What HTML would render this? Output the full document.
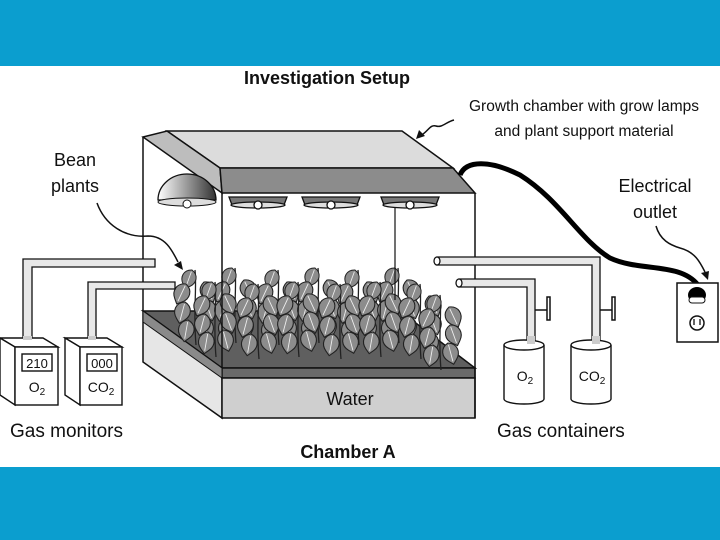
<!DOCTYPE html>
<html><head><meta charset="utf-8"><style>
html,body{margin:0;padding:0;width:720px;height:540px;overflow:hidden;background:#fff}
svg{display:block}
text{font-family:"Liberation Sans",sans-serif;fill:#111}
</style></head><body>
<svg width="720" height="540" viewBox="0 0 720 540">
<defs>
<linearGradient id="lg" x1="0" x2="1"><stop offset="0" stop-color="#fff"/><stop offset="0.5" stop-color="#999"/><stop offset="1" stop-color="#333"/></linearGradient>
<g id="leaf"><path d="M0,0 C-9,3 -10,12 -4,18 L0,22 L4,18 C10,12 9,3 0,0 Z" fill="#8c8c8c" stroke="#222" stroke-width="1.1"/><path d="M0,2 L0,19" stroke="#eee" stroke-width="0.9"/></g>
<g id="plant">
<path d="M0,0 C2,20 -2,40 1,75" stroke="#222" stroke-width="1.3" fill="none"/>
<use href="#leaf" transform="translate(-3,0) rotate(20) scale(0.9)"/>
<use href="#leaf" transform="translate(-9,14) rotate(25)"/>
<use href="#leaf" transform="translate(9,12) rotate(-25)"/>
<use href="#leaf" transform="translate(-10,32) rotate(15)"/>
<use href="#leaf" transform="translate(10,30) rotate(-20)"/>
<use href="#leaf" transform="translate(-7,50) rotate(10)"/>
<use href="#leaf" transform="translate(8,48) rotate(-15)"/>
</g>
</defs>
<rect x="0" y="0" width="720" height="66" fill="#0b9ecf"/>
<rect x="0" y="467" width="720" height="73" fill="#0b9ecf"/>

<text x="327" y="84" font-size="18" font-weight="bold" text-anchor="middle">Investigation Setup</text>
<text x="584" y="111" font-size="15.5" text-anchor="middle">Growth chamber with grow lamps</text>
<text x="584" y="136" font-size="15.5" text-anchor="middle">and plant support material</text>
<path d="M454,120 C446,122 442,128 436,126 C430,124 428,132 420,136" stroke="#111" stroke-width="1.5" fill="none"/>
<path d="M416,139 l3,-9 l6,6 z" fill="#111"/>
<text x="75" y="166" font-size="18" text-anchor="middle">Bean</text>
<text x="75" y="192" font-size="18" text-anchor="middle">plants</text>
<path d="M97,203 C105,225 125,238 148,236 C165,236 172,250 178,262" stroke="#111" stroke-width="1.5" fill="none"/>
<path d="M183,270 l-9,-5 l7,-4 z" fill="#111"/>
<text x="655" y="192" font-size="18" text-anchor="middle">Electrical</text>
<text x="655" y="218" font-size="18" text-anchor="middle">outlet</text>
<path d="M656,226 C660,240 670,245 680,248 C695,252 700,262 705,272" stroke="#111" stroke-width="1.5" fill="none"/>
<path d="M708,280 l-7,-7 l8,-2 z" fill="#111"/>

<!-- tray -->
<polygon points="143,311 400,311 475,368 222,368" fill="#5f5f5f" stroke="#111" stroke-width="1.5"/>
<polygon points="143,311 222,368 222,418 143,362" fill="#e6e6e6" stroke="#111" stroke-width="1.5"/>
<rect x="222" y="368" width="253" height="10" fill="#6a6a6a" stroke="#111" stroke-width="1.5"/>
<rect x="222" y="378" width="253" height="40" fill="#cfcfcf" stroke="#111" stroke-width="1.5"/>
<polygon points="143,311 222,368 222,378 143,322" fill="#8a8a8a" stroke="#111" stroke-width="1"/>
<text x="350" y="405" font-size="18" text-anchor="middle">Water</text>

<!-- plants -->
<use href="#plant" transform="translate(195,270)"/>
<use href="#plant" transform="translate(235,268)"/>
<use href="#plant" transform="translate(278,270)"/>
<use href="#plant" transform="translate(318,268)"/>
<use href="#plant" transform="translate(358,270)"/>
<use href="#plant" transform="translate(398,268)"/>
<use href="#plant" transform="translate(215,282)"/>
<use href="#plant" transform="translate(258,284)"/>
<use href="#plant" transform="translate(298,282)"/>
<use href="#plant" transform="translate(340,284)"/>
<use href="#plant" transform="translate(380,282)"/>
<use href="#plant" transform="translate(420,284)"/>
<use href="#plant" transform="translate(440,295)"/>

<!-- frame lines -->
<line x1="143" y1="137" x2="143" y2="311" stroke="#111" stroke-width="1.5"/>
<line x1="222" y1="193" x2="222" y2="368" stroke="#111" stroke-width="1.5"/>
<line x1="475" y1="193" x2="475" y2="418" stroke="#111" stroke-width="1.5"/>
<line x1="395" y1="206" x2="395" y2="300" stroke="#111" stroke-width="1.2"/>

<!-- roof -->
<polygon points="167,131 402,131 453,168 220,168" fill="#dcdcdc" stroke="#111" stroke-width="1.5"/>
<polygon points="143,137 167,131 220,168 222,193" fill="#bdbdbd" stroke="#111" stroke-width="1.5"/>
<polygon points="220,168 453,168 475,193 222,193" fill="#8c8c8c" stroke="#111" stroke-width="1.5"/>

<!-- lamps -->
<path d="M158,200 A29,26 0 0 1 216,200 Z" fill="url(#lg)" stroke="#111" stroke-width="1.3"/>
<ellipse cx="187" cy="202" rx="29" ry="4" fill="#ddd" stroke="#111"/>
<circle cx="187" cy="204" r="4" fill="#fff" stroke="#111"/>
<g stroke="#111" stroke-width="1.3">
<path d="M229,197 h58 l-3,8 h-52 z" fill="#777"/><ellipse cx="258" cy="205" rx="27" ry="3" fill="#ddd"/><circle cx="258" cy="205" r="4" fill="#fff"/>
<path d="M302,197 h58 l-3,8 h-52 z" fill="#777"/><ellipse cx="331" cy="205" rx="27" ry="3" fill="#ddd"/><circle cx="331" cy="205" r="4" fill="#fff"/>
<path d="M381,197 h58 l-3,8 h-52 z" fill="#777"/><ellipse cx="410" cy="205" rx="27" ry="3" fill="#ddd"/><circle cx="410" cy="205" r="4" fill="#fff"/>
</g>

<!-- cord -->
<path d="M460,175 C466,160 490,160 520,175 C560,200 580,240 610,258 C640,272 680,262 698,285" stroke="#000" stroke-width="5" fill="none"/>
<!-- outlet -->
<rect x="677" y="283" width="41" height="59" fill="#fff" stroke="#111" stroke-width="1.5"/>
<ellipse cx="697" cy="295" rx="9" ry="8" fill="#000"/>
<rect x="689" y="297" width="16" height="6" rx="3" fill="#fff" stroke="#111"/>
<circle cx="697" cy="323" r="7" fill="#fff" stroke="#111" stroke-width="1.5"/>
<line x1="694" y1="319" x2="694" y2="325" stroke="#111" stroke-width="1.3"/><line x1="700" y1="319" x2="700" y2="325" stroke="#111" stroke-width="1.3"/>

<!-- left tubes -->
<g fill="#e8e8e8" stroke="#111" stroke-width="1.3">
<path d="M23,338 V259 H155 V267 H32 V338 Z"/>
<path d="M88,338 V282 H175 V289 H96 V338 Z"/>
</g>
<!-- monitors -->
<g stroke="#111" stroke-width="1.4" fill="#fff">
<polygon points="0,338 43,338 58,347 15,347"/>
<polygon points="0,338 15,347 15,405 0,395"/>
<rect x="15" y="347" width="43" height="58"/>
<rect x="22" y="354" width="30" height="17"/>
<polygon points="65,338 107,338 122,347 80,347"/>
<polygon points="65,338 80,347 80,405 65,395"/>
<rect x="80" y="347" width="42" height="58"/>
<rect x="87" y="354" width="30" height="17"/>
</g>
<rect x="23" y="336" width="9" height="4" fill="#ccc"/><rect x="88" y="336" width="8" height="4" fill="#ccc"/>
<text x="37" y="368" font-size="13" text-anchor="middle">210</text>
<text x="102" y="368" font-size="13" text-anchor="middle">000</text>
<text x="37" y="392" font-size="14" text-anchor="middle">O<tspan font-size="10" dy="3">2</tspan></text>
<text x="101" y="392" font-size="14" text-anchor="middle">CO<tspan font-size="10" dy="3">2</tspan></text>
<text x="10" y="437" font-size="19">Gas monitors</text>

<!-- right tubes -->
<g fill="#e8e8e8" stroke="#111" stroke-width="1.3">
<path d="M437,257 H600 V342 H592 V265 H437 Z"/>
<ellipse cx="437" cy="261" rx="3" ry="4" fill="#fff"/>
<path d="M459,279 H535 V342 H527 V287 H459 Z"/>
<ellipse cx="459" cy="283" rx="3" ry="4" fill="#fff"/>
</g>
<g stroke="#111" stroke-width="1.5">
<line x1="535" y1="310" x2="548" y2="310"/><rect x="547" y="297" width="3" height="23" fill="#fff"/>
<line x1="600" y1="310" x2="613" y2="310"/><rect x="612" y="297" width="3" height="23" fill="#fff"/>
</g>
<!-- cylinders -->
<g stroke="#111" stroke-width="1.4" fill="#fff">
<path d="M504,345 V399 A20,5 0 0 0 544,399 V345"/>
<ellipse cx="524" cy="345" rx="20" ry="5"/>
<path d="M571,345 V399 A20,5 0 0 0 611,399 V345"/>
<ellipse cx="591" cy="345" rx="20" ry="5"/>
</g>
<rect x="527" y="336" width="8" height="8" fill="#ccc"/><rect x="592" y="336" width="8" height="8" fill="#ccc"/>
<text x="525" y="381" font-size="14" text-anchor="middle">O<tspan font-size="10" dy="3">2</tspan></text>
<text x="592" y="381" font-size="14" text-anchor="middle">CO<tspan font-size="10" dy="3">2</tspan></text>
<text x="497" y="437" font-size="19">Gas containers</text>
<text x="348" y="458" font-size="18" font-weight="bold" text-anchor="middle">Chamber A</text>
</svg>
</body></html>
